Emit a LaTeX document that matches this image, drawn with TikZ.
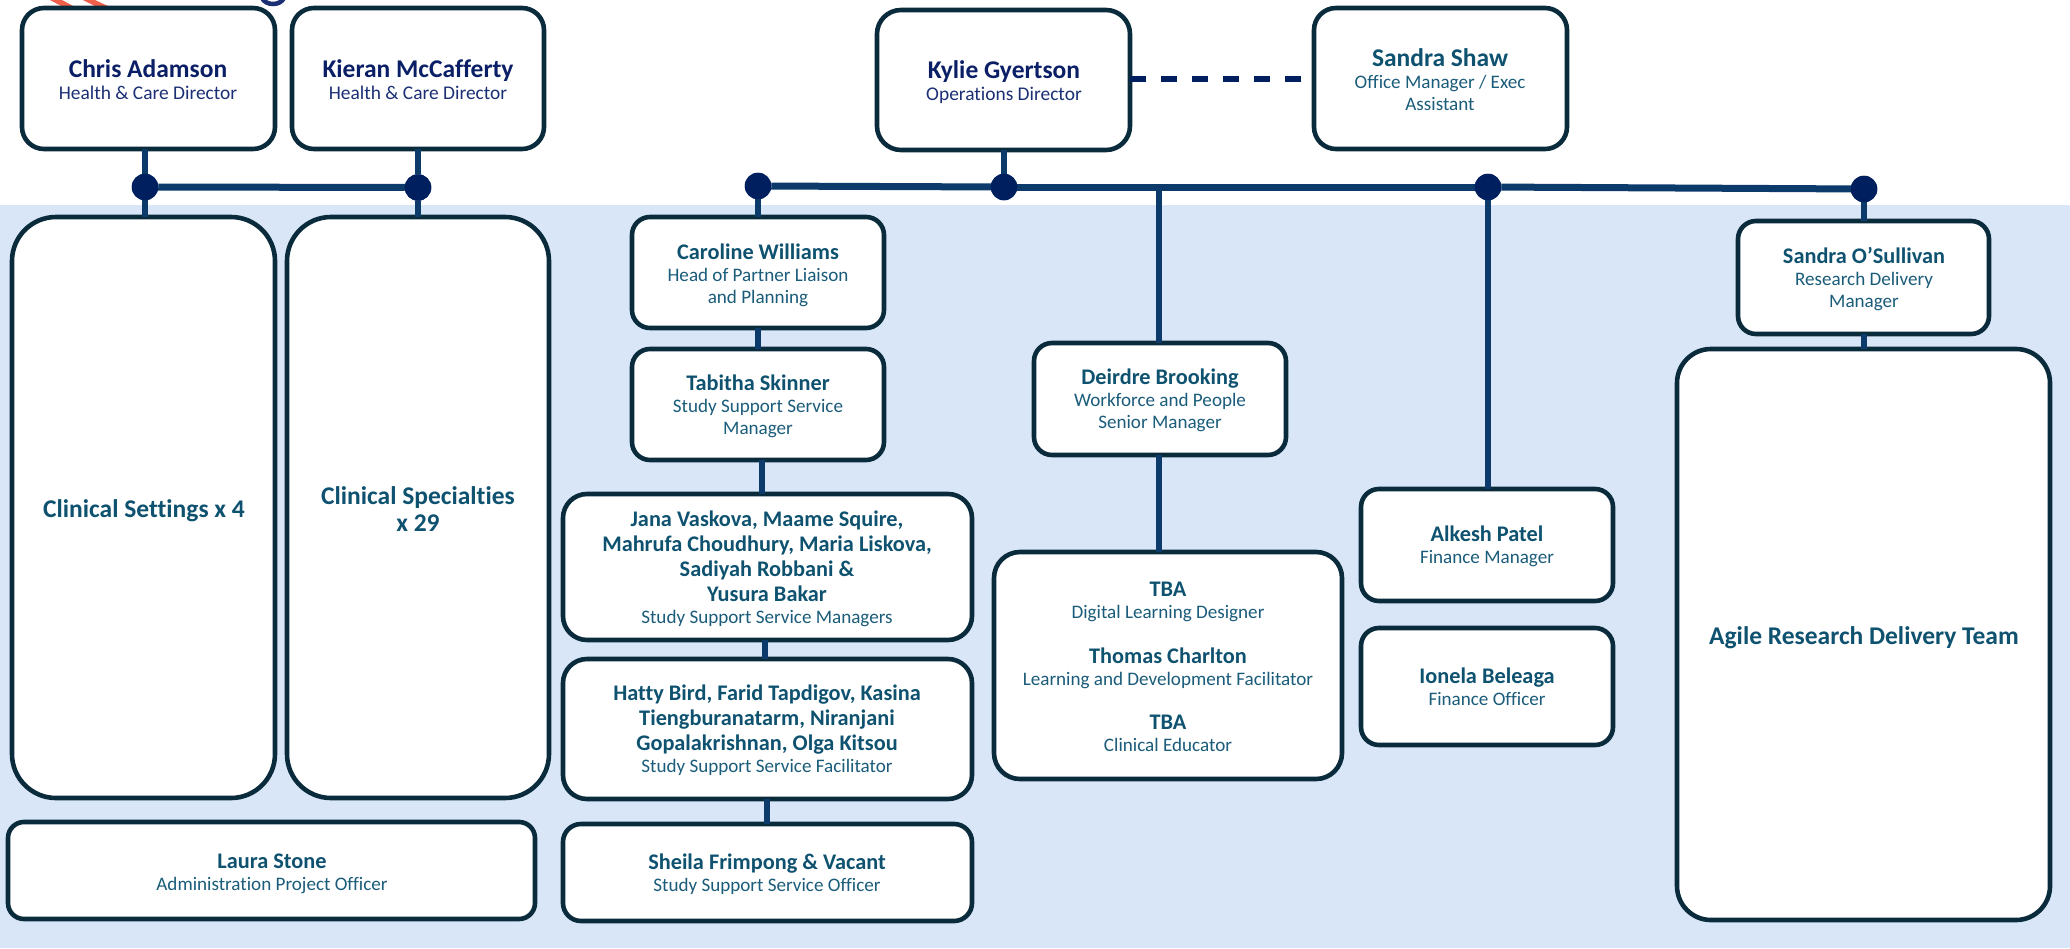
\documentclass[tikz,border=0pt]{standalone}
\usepackage{fontspec}
\setmainfont[Ligatures=NoCommon]{Carlito}
\definecolor{bgblue}{HTML}{D9E6F8}
\definecolor{boxline}{HTML}{0A2B3C}
\definecolor{conn}{HTML}{0B3A6B}
\definecolor{dotc}{HTML}{001F5F}
\definecolor{navy}{HTML}{0B1F66}
\definecolor{navysub}{HTML}{1B2F74}
\definecolor{teal}{HTML}{0E5270}
\definecolor{tealsub}{HTML}{1A5C7A}
\definecolor{stripe}{HTML}{F0604A}
\newcommand{\boxat}[6]{\node[boxstyle,rounded corners=#6,minimum width=#4-#2,minimum height=#5-#3] (#1) at ({(#2+#4)/2},{(#3+#5)/2}) {};}
\newcommand{\bignm}{\fontsize{25.5}{22}\selectfont\bfseries}
\newcommand{\nm}{\fontsize{22.3}{22}\selectfont\bfseries}
\newcommand{\sub}{\fontsize{19.1}{22}\selectfont\mdseries\color{tealsub}}
\newcommand{\topsub}{\fontsize{19.4}{22}\selectfont\mdseries\color{navysub}}
\begin{document}
\begin{tikzpicture}[x=1pt,y=-1pt,
  boxstyle/.style={draw=boxline,line width=4.6pt,fill=white,inner sep=0pt,outer sep=0pt},
  txt/.style={align=center,inner sep=0pt,text=teal,font=\fontsize{19}{22}\selectfont},
  toptxt/.style={align=center,inner sep=0pt,text=navy,font=\fontsize{19}{22}\selectfont},
  link/.style={draw=conn,line width=6.5pt},
  rail/.style={draw=conn,line width=7pt},
  dotn/.style={circle,fill=dotc,minimum size=26.5pt,inner sep=0pt,outer sep=0pt}]
\useasboundingbox (0,0) rectangle (2070,948);
\fill[white] (0,0) rectangle (2070,948);
\fill[bgblue] (0,205) rectangle (2070,948);
% fragments at top
\fill[stripe] (50,0)--(62,0)--(75,7)--(63,7)--cycle (83,0)--(95,0)--(110,7)--(97,7)--cycle;
\draw[navysub,line width=4.5pt] (262,-2) .. controls (266,6) and (280,6) .. (284,-2);
% dots
\node[dotn] (d1) at (145,187) {};
\node[dotn] (d2) at (418,187.5) {};
\node[dotn] (d3) at (758,186) {};
\node[dotn] (d4) at (1004,187) {};
\node[dotn] (d5) at (1488,187) {};
\node[dotn] (d6) at (1864,189) {};
\coordinate (j1) at (1159,187);
% boxes
\boxat{chris}{22}{8}{275}{149}{22pt}
\boxat{kieran}{292}{8}{544}{149}{22pt}
\boxat{kylie}{877}{10}{1130}{150}{24pt}
\boxat{shaw}{1314}{8}{1567}{149}{22pt}
\boxat{settings}{12}{217}{275}{798}{44pt}
\boxat{special}{287}{217}{549}{798}{44pt}
\boxat{laura}{8}{822}{535}{919}{16pt}
\boxat{caroline}{632}{217}{884}{328}{18pt}
\boxat{tabitha}{632}{349}{884}{460}{18pt}
\boxat{jana}{563}{494}{972}{640}{24pt}
\boxat{hatty}{563}{659}{972}{799}{24pt}
\boxat{sheila}{563}{824}{972}{921}{18pt}
\boxat{deirdre}{1034}{343}{1286}{455}{18pt}
\boxat{tba}{994}{552}{1342}{779}{26pt}
\boxat{alkesh}{1361}{489}{1613}{601}{18pt}
\boxat{ionela}{1361}{628}{1613}{745}{18pt}
\boxat{osull}{1738}{221}{1989}{334}{18pt}
\boxat{agile}{1677}{349}{2050}{920}{34pt}
% connectors
\draw[link] (chris.south -| d1) -- (d1);
\draw[link] (d1) -- (settings.north -| d1);
\draw[link] (kieran.south -| d2) -- (d2);
\draw[link] (d2) -- (special.north -| d2);
\draw[rail] (d1) -- (d2);
\draw[rail] (d3) -- (d4);
\draw[rail] (d4) -- (d5);
\draw[rail] (d5) -- (d6);
\draw[link] (kylie.south -| d4) -- (d4);
\draw[link] (d3) -- (caroline.north -| d3);
\draw[link] (caroline.south -| d3) -- (tabitha.north -| d3);
\coordinate (j2) at (762,460);
\draw[link] (tabitha.south -| j2) -- (jana.north -| j2);
\coordinate (j3) at (765,640);
\draw[link] (jana.south -| j3) -- (hatty.north -| j3);
\coordinate (j4) at (767,800);
\draw[link] (hatty.south -| j4) -- (sheila.north -| j4);
\draw[link] (j1) -- (deirdre.north -| j1);
\draw[link] (deirdre.south -| j1) -- (tba.north -| j1);
\draw[link] (d5) -- (alkesh.north -| d5);
\draw[link] (d6) -- (osull.north -| d6);
\draw[link] (osull.south -| d6) -- (agile.north -| d6);
\draw[draw=dotc,line width=6pt,dash pattern=on 16pt off 15pt] (kylie.east |- 0,79) -- (shaw.west |- 0,79);
% dots on top
\foreach \d in {d1,d2,d3,d4,d5,d6} {\node[dotn] at (\d) {};}
% text
\node[toptxt] (t1) at (148,80) {\bignm Chris Adamson\\\topsub Health \& Care Director};
\node[toptxt] (t2) at (418,80) {\bignm Kieran McCafferty\\\topsub Health \& Care Director};
\node[toptxt] (t3) at (1004,82.5) {\bignm Kylie Gyertson\\\topsub Operations Director};
\node[txt] (t4) at (1440,80) {\bignm Sandra Shaw\\\sub Office Manager / Exec\\\sub Assistant};
\node[txt] (t5) at (144,510.5) {\bignm Clinical Settings x 4};
\node[txt] (t6) at (418,509) {\bignm Clinical Specialties\\[5.5pt]\bignm x 29};
\node[txt] (t7) at (272,873.5) {\nm Laura Stone\\\sub Administration Project Officer};
\node[txt] (t8) at (758,275.5) {\nm Caroline Williams\\\sub Head of Partner Liaison\\\sub and Planning};
\node[txt] (t9) at (758,406.5) {\nm Tabitha Skinner\\\sub Study Support Service\\\sub Manager};
\node[txt] (t10) at (767,569) {\nm Jana Vaskova, Maame Squire,\\[3pt]\nm Mahrufa Choudhury, Maria Liskova,\\[3pt]\nm Sadiyah Robbani \&\\[3pt]\nm Yusura Bakar\\[0.5pt]\sub Study Support Service Managers};
\node[txt] (t11) at (767,730) {\nm Hatty Bird, Farid Tapdigov, Kasina\\[3pt]\nm Tiengburanatarm, Niranjani\\[3pt]\nm Gopalakrishnan, Olga Kitsou\\\sub Study Support Service Facilitator};
\node[txt] (t12) at (767,874.5) {\nm Sheila Frimpong \& Vacant\\\sub Study Support Service Officer};
\node[txt] (t13) at (1160,400.5) {\nm Deirdre Brooking\\\sub Workforce and People\\\sub Senior Manager};
\node[txt] (t14) at (1168,602) {\nm TBA\\\sub Digital Learning Designer};
\node[txt] (t15) at (1168,668.5) {\nm Thomas Charlton\\\sub Learning and Development Facilitator};
\node[txt] (t16) at (1168,733.5) {\nm TBA\\\sub Clinical Educator};
\node[txt] (t17) at (1487,546.5) {\nm Alkesh Patel\\\sub Finance Manager};
\node[txt] (t18) at (1487,687) {\nm Ionela Beleaga\\\sub Finance Officer};
\node[txt] (t19) at (1864,279.5) {\nm Sandra O’Sullivan\\\sub Research Delivery\\\sub Manager};
\node[txt] (t20) at (1864,637.5) {\bignm Agile Research Delivery Team};
\end{tikzpicture}
\end{document}
